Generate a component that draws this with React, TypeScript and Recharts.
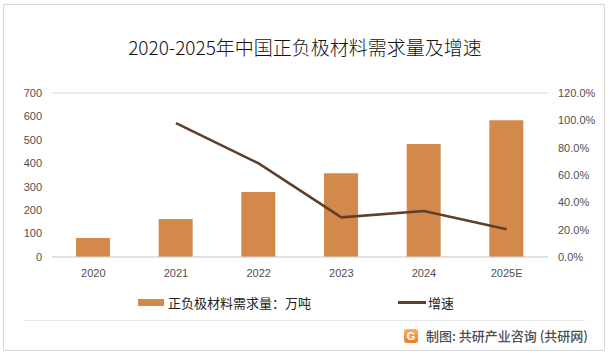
import React from "react";
import { ComposedChart, Bar, Line, XAxis, YAxis, CartesianGrid } from "recharts";

const categories = ["2020", "2021", "2022", "2023", "2024", "2025E"];
const demand = [81, 162, 277, 358, 482, 584];
const growth: (number | null)[] = [null, 98, 68.5, 29, 33.6, 20.3];
const leftTicks = [0, 100, 200, 300, 400, 500, 600, 700];
const rightTicks = [0, 20, 40, 60, 80, 100, 120];

const data = categories.map((c, i) => ({ name: c, demand: demand[i], growth: growth[i] }));

const BAR = "#D3894C";
const LINE = "#5E3F2A";
const CJK = "'Noto Sans CJK SC', 'Noto Sans', sans-serif";
const TICK = { fontSize: 11, fill: "#505050", fontFamily: "'Liberation Sans', 'DejaVu Sans', sans-serif" };

export default function App() {
  return (
    <div style={{ position: "absolute", left: 0, top: 0, width: 610, height: 357, background: "#fff" }}>
      <div style={{ position: "absolute", left: 3, top: 4, width: 602, height: 347, border: "1px solid #d9d9d9", boxSizing: "border-box" }} />
      <div style={{ position: "absolute", left: 0, top: 34, width: 610, textAlign: "center", fontFamily: CJK, fontSize: 19, fontWeight: 300, color: "#111", lineHeight: "26px" }}>
        2020-2025年中国正负极材料需求量及增速
      </div>
      <ComposedChart width={610} height={357} data={data} margin={{ top: 93, right: 12, bottom: 80, left: 12 }} style={{ position: "absolute", left: 0, top: 0 }}>
        <CartesianGrid vertical={false} stroke="#d9d9d9" />
        <XAxis dataKey="name" tick={TICK} tickLine={false} axisLine={{ stroke: "#d9d9d9" }} tickMargin={6} height={20} />
        <YAxis yAxisId="l" orientation="left" domain={[0, 700]} ticks={leftTicks} tick={TICK} tickLine={false} axisLine={false} tickMargin={4} width={40} interval={0} />
        <YAxis yAxisId="r" orientation="right" domain={[0, 120]} ticks={rightTicks} tick={TICK} tickLine={false} axisLine={false} tickMargin={4} width={50} interval={0} tickFormatter={(v: number) => v.toFixed(1) + "%"} />
        <Bar yAxisId="l" dataKey="demand" fill={BAR} barSize={34} isAnimationActive={false} />
        <Line yAxisId="r" dataKey="growth" stroke={LINE} strokeWidth={2.5} dot={false} isAnimationActive={false} connectNulls={false} />
      </ComposedChart>
      <div style={{ position: "absolute", left: 138, top: 293, display: "flex", alignItems: "center", fontFamily: CJK, fontSize: 13, color: "#222" }}>
        <span style={{ display: "inline-block", width: 26, height: 7, background: BAR, marginRight: 4 }} />
        <span>正负极材料需求量：万吨</span>
      </div>
      <div style={{ position: "absolute", left: 398, top: 293, display: "flex", alignItems: "center", fontFamily: CJK, fontSize: 13, color: "#222" }}>
        <span style={{ display: "inline-block", width: 28, height: 3, background: LINE, marginRight: 2 }} />
        <span>增速</span>
      </div>
      <div style={{ position: "absolute", left: 25, top: 320, width: 560, height: 1, background: "#e6e6e6" }} />
      <div style={{ position: "absolute", left: 404, top: 329, width: 14, height: 14, borderRadius: 3, background: "linear-gradient(#f7b066, #ef7a2e)", color: "#fff", fontSize: 11, fontWeight: 700, textAlign: "center", lineHeight: "14px", fontFamily: "'Liberation Sans', sans-serif" }}>G</div>
      <div style={{ position: "absolute", left: 426, top: 326, fontFamily: CJK, fontSize: 13, fontWeight: 500, color: "#4d4d4d", lineHeight: "20px" }}>
        制图: 共研产业咨询 (共研网)
      </div>
    </div>
  );
}
